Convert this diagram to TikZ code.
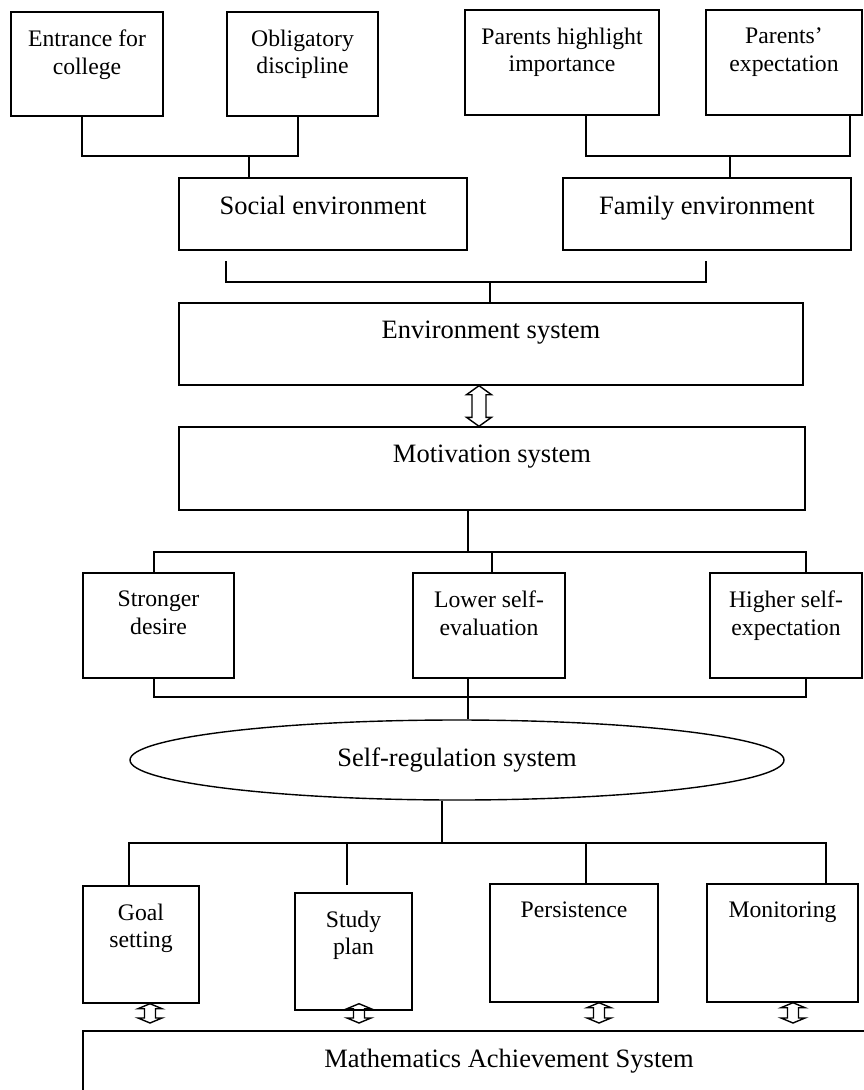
\documentclass[tikz,border=0pt]{standalone}
\usepackage{fontspec}
\setmainfont{Liberation Serif}
\usetikzlibrary{shapes.geometric,calc}

\begin{document}
\begin{tikzpicture}[
  x=1pt,
  y=-1pt,
  line width=1.4pt,
  box/.style={
    draw,
    inner sep=0pt
  },
  txt/.style={
    anchor=north,
    yshift=-18pt,
    inner sep=0pt,
    align=center,
    font=\fontsize{23.7}{27.5}\selectfont
  },
  bigtxt/.style={
    txt,
    font=\fontsize{26.5}{30}\selectfont
  },
  updown/.style n args={3}{
    to path={
      let \p1=(\tikztostart), \p2=(\tikztotarget) in
      (\x1,\y1) -- (\x1+#2,\y1-#3) -- (\x1+#1,\y1-#3)
      -- (\x1+#1,\y2+#3) -- (\x1+#2,\y2+#3) -- (\x1,\y2)
      -- (\x1-#2,\y2+#3) -- (\x1-#1,\y2+#3)
      -- (\x1-#1,\y1-#3) -- (\x1-#2,\y1-#3) -- cycle
    }
  },
]
\useasboundingbox (0,0) rectangle (864,1090);
\clip (0,0) rectangle (864,1090);

% environment level
\node[box, minimum width=152pt, minimum height=104pt,
  label={[txt]north:Entrance for\\college}] (entrance) at (87,64) {};
\node[box, minimum width=151pt, minimum height=104pt,
  label={[txt]north:Obligatory\\discipline}] (oblig) at (302.5,64) {};
\node[box, minimum width=194pt, minimum height=105pt,
  label={[txt]north:Parents highlight\\importance}] (highlight) at (562,62.5) {};
\node[box, minimum width=156pt, minimum height=105pt,
  label={[txt]north:Parents’\\expectation}] (expect) at (784,62.5) {};
\node[box, minimum width=288pt, minimum height=72pt,
  label={[bigtxt]north:Social environment}] (social) at (323,214) {};
\node[box, minimum width=288pt, minimum height=72pt,
  label={[bigtxt]north:Family environment}] (family) at (707,214) {};
\node[box, minimum width=624pt, minimum height=82pt,
  label={[bigtxt]north:Environment system}] (env) at (491,344) {};

% motivation level
\node[box, minimum width=626pt, minimum height=83pt,
  label={[bigtxt]north:Motivation system}] (motiv) at (492,468.5) {};
\node[box, minimum width=151pt, minimum height=105pt,
  label={[txt]north:Stronger\\desire}] (stronger) at (158.5,625.5) {};
\node[box, minimum width=152pt, minimum height=105pt,
  label={[txt]north:Lower self-\\evaluation}] (lower) at (489,625.5) {};
\node[box, minimum width=152pt, minimum height=105pt,
  label={[txt]north:Higher self-\\expectation}] (higher) at (786,625.5) {};

% self-regulation level
\node[draw, ellipse, inner sep=0pt, minimum width=654pt, minimum height=80pt,
  font=\fontsize{26.5}{30}\selectfont] (selfreg) at (457,760) {Self-regulation system};
\node[box, minimum width=116pt, minimum height=117pt,
  label={[txt]north:Goal\\setting}] (goal) at (141,944.5) {};
\node[box, minimum width=117pt, minimum height=117pt,
  label={[txt]north:Study\\plan}] (study) at (353.5,951.5) {};
\node[box, minimum width=168pt, minimum height=118pt,
  label={[txt]north:Persistence}] (persist) at (574,943) {};
\node[box, minimum width=151pt, minimum height=118pt,
  label={[txt]north:Monitoring}] (monitor) at (782.5,943) {};
\node[box, minimum width=852pt, minimum height=88pt,
  label={[bigtxt]north:Mathematics Achievement System}] (math) at (509,1075) {};

% brackets
\coordinate (j1) at (249,156);
\coordinate (j2) at (730,156);
\draw ([xshift=-5pt]entrance.south) |- (j1) -| ([xshift=-4.5pt]oblig.south);
\draw (j1) -- (j1 |- social.north);
\draw ([xshift=24pt]highlight.south) |- (j2) -| ([xshift=66pt]expect.south);
\draw (j2) -- (j2 |- family.north);

\coordinate (b1) at (226,261);
\coordinate (b2) at (706,261);
\coordinate (j3) at (490,282);
\draw (b1) |- (j3) -| (b2);
\draw (j3) -- (j3 |- env.north);

\coordinate (a1) at ([xshift=-12pt]env.south);
\draw (a1) to[updown={7pt}{12.5pt}{9pt}] (a1 |- motiv.north);

\coordinate (j4) at (468,552);
\draw (motiv.south -| j4) -- (j4);
\draw ([xshift=-4.5pt]stronger.north) |- (j4) -| ([xshift=20pt]higher.north);
\draw ([xshift=3pt]lower.north) |- (j4);

\coordinate (j5) at (468,697);
\draw ([xshift=-4.5pt]stronger.south) |- (j5) -| ([xshift=20pt]higher.south);
\draw (lower.south -| j5) -- (selfreg.north -| j5);

\coordinate (j6) at (442,843);
\coordinate (s1) at (347,885);
\draw (selfreg.south -| j6) -- (j6);
\draw ([xshift=-12pt]goal.north) |- (j6) -| ([xshift=43.5pt]monitor.north);
\draw ([xshift=12pt]persist.north) |- (j6);
\draw (s1) |- (j6);

% links to achievement
\coordinate (m1) at (150,1023);
\coordinate (m2) at (359,1023);
\coordinate (m3) at (599,1023);
\coordinate (m4) at (793,1023);
\draw ([xshift=9pt]goal.south) to[updown={5.5pt}{12pt}{5pt}] (m1);
\draw ([xshift=5.5pt,yshift=7pt]study.south) to[updown={5.5pt}{12pt}{5pt}] (m2);
\draw ([xshift=25pt]persist.south) to[updown={5.5pt}{12pt}{5pt}] (m3);
\draw ([xshift=10.5pt]monitor.south) to[updown={5.5pt}{12pt}{5pt}] (m4);
\end{tikzpicture}
\end{document}
